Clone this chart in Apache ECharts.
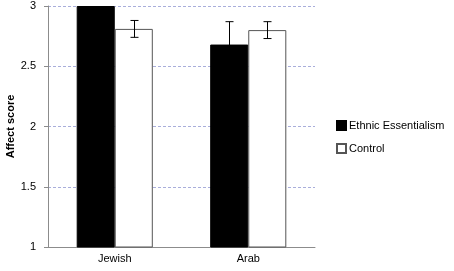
<!DOCTYPE html>
<html>
<head>
<meta charset="utf-8">
<script src="https://cdn.jsdelivr.net/npm/echarts@6/dist/echarts.min.js"></script>
<style>
  html, body { margin: 0; padding: 0; background: #fff; }
  #chart { width: 454px; height: 271px; }
</style>
</head>
<body>
<div id="chart"></div>
<script>
  // data
  var categories = ['Jewish', 'Arab'];
  var essentialism = [3.0, 2.68];
  var essentialismErr = [0, 0.19];
  var control = [2.81, 2.80];
  var controlErr = [0.07, 0.07];
  var yTicks = [1, 1.5, 2, 2.5, 3];

  var chart = echarts.init(document.getElementById('chart'));
  var font = '"Liberation Sans", "Open Sans", sans-serif';
  var barPct = 0.285;

  // error bar drawer, side = -1 left bar / +1 right bar
  function errBars(values, errs, side) {
    var data = values.map(function (v, i) { return [i, v, errs[i]]; });
    return {
      type: 'custom',
      z: 10,
      silent: true,
      data: data,
      renderItem: function (params, api) {
        var err = api.value(2);
        if (!err) return null;
        var v = api.value(1);
        var c = api.coord([api.value(0), v]);
        var band = api.size([1, 0])[0];
        var x = Math.round(c[0] + side * band * barPct / 2) + 0.5;
        var top = api.coord([api.value(0), v + err])[1];
        var bot = api.coord([api.value(0), v - err])[1];
        var st = { stroke: '#000', lineWidth: 1 };
        return {
          type: 'group',
          children: [
            { type: 'line', shape: { x1: x, y1: top, x2: x, y2: bot }, style: st },
            { type: 'line', shape: { x1: x - 4, y1: top, x2: x + 4, y2: top }, style: st },
            { type: 'line', shape: { x1: x - 4, y1: bot, x2: x + 4, y2: bot }, style: st }
          ]
        };
      }
    };
  }

  var option = {
    animation: false,
    textStyle: { fontFamily: font },
    grid: { left: 48, right: 139, top: 6, bottom: 24, outerBoundsMode: 'none', containLabel: false },
    legend: {
      orient: 'vertical',
      left: 336,
      top: 120,
      padding: 0,
      itemWidth: 9,
      itemHeight: 9,
      itemGap: 12,
      icon: 'rect',
      textStyle: { fontSize: 11, color: '#000', fontFamily: font, padding: [0, 0, 0, -2] },
      data: ['Ethnic Essentialism', 'Control']
    },
    xAxis: {
      type: 'category',
      data: categories,
      axisLine: { lineStyle: { color: '#8c8c8c' } },
      axisTick: { length: 5, lineStyle: { color: '#8c8c8c' } },
      axisLabel: { fontSize: 11, color: '#000', margin: 6 }
    },
    yAxis: {
      type: 'value',
      min: 1,
      max: 3,
      interval: 0.5,
      name: 'Affect score',
      nameLocation: 'middle',
      nameGap: 32,
      nameMoveOverlap: false,
      nameTextStyle: { fontSize: 11, fontWeight: 'bold', color: '#000' },
      axisLine: { show: true, lineStyle: { color: '#8c8c8c' } },
      axisTick: { show: true, length: 4, lineStyle: { color: '#8c8c8c' } },
      axisLabel: {
        fontSize: 11, color: '#000', margin: 12,
        formatter: function (v) {
          return yTicks.indexOf(v) >= 0 ? String(v) : '';
        }
      },
      splitLine: { lineStyle: { color: '#a9aedb', type: [3, 2] } }
    },
    series: [
      {
        name: 'Ethnic Essentialism',
        type: 'bar',
        data: essentialism,
        barWidth: (barPct * 100) + '%',
        barGap: '0%',
        itemStyle: { color: '#000', borderColor: '#000', borderWidth: 1 }
      },
      {
        name: 'Control',
        type: 'bar',
        data: control,
        barWidth: (barPct * 100) + '%',
        itemStyle: { color: '#fff', borderColor: '#555', borderWidth: 1 }
      },
      errBars(essentialism, essentialismErr, -1),
      errBars(control, controlErr, 1)
    ]
  };

  chart.setOption(option);
</script>
</body>
</html>
